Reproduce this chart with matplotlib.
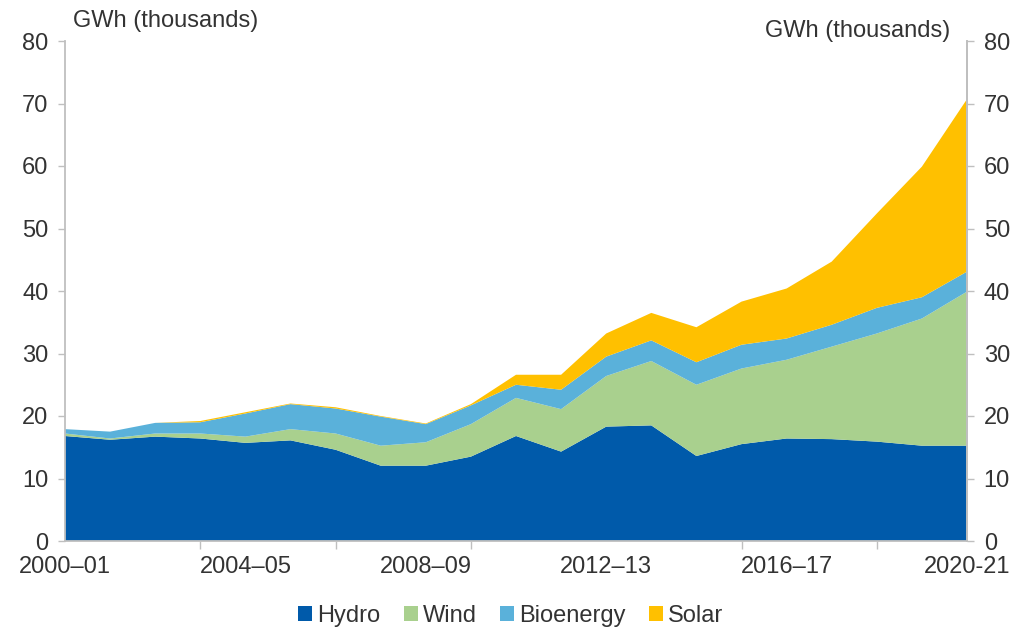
import matplotlib
matplotlib.use("Agg")
import matplotlib.pyplot as plt
from matplotlib.patches import Patch
import numpy as np

years = [f"{y}–{str(y+1)[-2:]}" for y in range(2000, 2021)]
tick_labels = ["2000–01", "2004–05", "2008–09", "2012–13", "2016–17", "2020-21"]

hydro = [16.8, 16.2, 16.7, 16.4, 15.7, 16.1, 14.6, 12.05, 12.05, 13.5, 16.8,
         14.3, 18.3, 18.5, 13.6, 15.5, 16.4, 16.3, 15.9, 15.25, 15.25]
wind = [0.4, 0.2, 0.5, 0.8, 1.0, 1.8, 2.6, 3.2, 3.75, 5.2, 6.1,
        6.8, 8.1, 10.3, 11.4, 12.1, 12.6, 14.8, 17.3, 20.35, 24.65]
bioenergy = [0.7, 1.1, 1.7, 1.8, 3.7, 4.0, 4.0, 4.65, 2.9, 3.0, 2.1,
             3.1, 3.1, 3.3, 3.6, 3.8, 3.4, 3.5, 4.1, 3.4, 3.2]
solar = [0.0, 0.0, 0.0, 0.2, 0.2, 0.1, 0.2, 0.1, 0.1, 0.2, 1.6,
         2.4, 3.7, 4.4, 5.6, 6.9, 8.0, 10.1, 15.1, 20.9, 27.6]

series = ["Hydro", "Wind", "Bioenergy", "Solar"]
colors = ["#005AAA", "#A9D08E", "#5AB1DA", "#FFC000"]

plt.rcParams['font.family'] = ['Liberation Sans', 'DejaVu Sans']
FS = 17
TXT = "#333333"
GRAY = "#BFBFBF"

fig = plt.figure(figsize=(10.13, 6.30), dpi=100)
ax = fig.add_axes([65/1013, 1-541/630, (967-65)/1013, 500/630])

x = np.arange(len(years))
ax.stackplot(x, hydro, wind, bioenergy, solar, colors=colors, linewidth=0)

ax.set_xlim(0, len(years)-1)
ax.set_ylim(0, 80)
ax.set_yticks(range(0, 81, 10))
ax.tick_params(axis='y', labelsize=FS, colors=GRAY, labelcolor=TXT, length=5, width=1, direction='out', pad=7)

ax.set_xticks(range(0, 21, 4))
ax.set_xticklabels(tick_labels)
ax.set_xticks(range(0, 20, 3), minor=True)
ax.tick_params(axis='x', which='major', length=0, labelsize=FS, labelcolor=TXT, pad=11)
ax.tick_params(axis='x', which='minor', length=6, width=1, colors=GRAY, direction='out')

ax.spines["top"].set_visible(False)
for s in ["left", "right", "bottom"]:
    ax.spines[s].set_color(GRAY)
    ax.spines[s].set_linewidth(1.3)

ax2 = ax.twinx()
ax2.set_ylim(0, 80)
ax2.set_yticks(range(0, 81, 10))
ax2.tick_params(axis='y', labelsize=FS, colors=GRAY, labelcolor=TXT, length=5, width=1, direction='out', pad=7)
for s in ["top", "left", "bottom"]:
    ax2.spines[s].set_visible(False)
ax2.spines["right"].set_color(GRAY)
ax2.spines["right"].set_linewidth(1.3)

fig.text(73/1013, 1-27/630, "GWh (thousands)", fontsize=FS, color=TXT, ha='left', va='baseline')
fig.text(950/1013, 1-37/630, "GWh (thousands)", fontsize=FS, color=TXT, ha='right', va='baseline')

handles = [Patch(facecolor=c, edgecolor='none', label=n) for n, c in zip(series, colors)]
fig.legend(handles=handles, loc='center', bbox_to_anchor=(0.504, 1-616/630), ncol=4, frameon=False,
           fontsize=FS, handlelength=0.6, handleheight=0.6, handletextpad=0.2, columnspacing=1.0,
           labelcolor=TXT)

fig.savefig("out.png", dpi=100)
